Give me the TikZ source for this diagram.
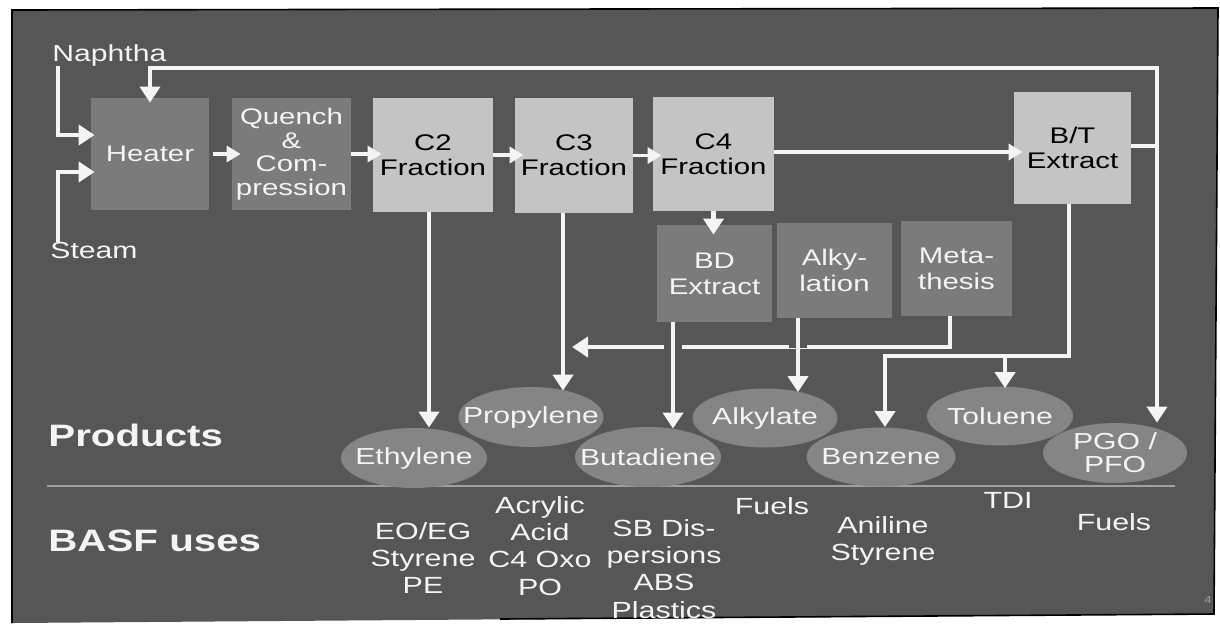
\documentclass[tikz,border=0pt]{standalone}
\usepackage{fontspec}
\setmainfont{Liberation Sans}[FakeStretch=1.3]
\usetikzlibrary{arrows.meta,shapes.geometric}
\definecolor{bg}{HTML}{565656}
\definecolor{darkbox}{HTML}{7B7B7B}
\definecolor{lightbox}{HTML}{C4C4C4}
\definecolor{ellc}{HTML}{858585}
\definecolor{wline}{HTML}{F4F4F4}
\definecolor{sepc}{HTML}{A0A0A0}
\newcommand{\zb}[1]{\makebox[0pt]{#1}}
\tikzset{
  dbox/.style={rectangle, fill=darkbox, text=wline, inner sep=0pt, align=center,
    font=\fontsize{11.3}{13}\selectfont},
  lbox/.style={rectangle, fill=lightbox, text=black, inner sep=0pt, align=center,
    font=\fontsize{11.3}{12.5}\selectfont},
  prod/.style={ellipse, fill=ellc, text=wline, inner sep=0pt, align=center,
    font=\fontsize{11.6}{11.5}\selectfont},
  lab/.style={text=wline, inner sep=0pt, font=\fontsize{11.6}{14}\selectfont},
  use/.style={text=wline, inner sep=0pt, align=center, font=\fontsize{11.7}{13.6}\selectfont},
  head/.style={text=wline, inner sep=0pt, anchor=west, font=\bfseries\fontsize{15.5}{18}\selectfont},
  wl/.style={draw=wline, line width=2.2pt},
  arr/.style={wl, -{Triangle[width=10pt,length=8pt]}},
  arrs/.style={draw=wline, line width=1.7pt, -{Triangle[width=8pt,length=7pt]}, shorten >=-4.5pt},
  halo/.style={preaction={draw=bg, line width=9pt, -, shorten <=5pt, shorten >=22pt}}
}
\begin{document}
\begin{tikzpicture}[x=0.5pt,y=-0.5pt]
\useasboundingbox (0,0) rectangle (1220,623);
\fill[white] (0,0) rectangle (1220,623);
\fill[bg] (12,10) -- (1218,8) -- (1214,614) -- (12,623) -- cycle;
\draw[black, line width=0.8pt] (12,623) -- (12,10) -- (1218,8) -- (1214,614) -- (500,619);

% separator
\draw[sepc, line width=0.8pt] (47,486) -- (1175,486);

% process boxes
\node[dbox, minimum width=59pt, minimum height=56pt] (heater) at (150,154) {Heater};
\node[dbox, minimum width=59.5pt, minimum height=56pt, font=\fontsize{11.3}{11.8}\selectfont] (quench) at (291.5,154) {Quench\\\&\\Com-\\pression};
\node[lbox, minimum width=60pt, minimum height=57pt] (c2) at (433,155) {C2\\Fraction};
\node[lbox, minimum width=59pt, minimum height=57.5pt] (c3) at (574,155.5) {C3\\Fraction};
\node[lbox, minimum width=60.5pt, minimum height=57pt] (c4) at (713.5,154) {C4\\Fraction};
\node[lbox, minimum width=58.5pt, minimum height=56pt] (bt) at (1072.5,148) {B/T\\Extract};
\node[dbox, minimum width=57.5pt, minimum height=48.5pt] (bd) at (714.5,273.5) {BD\\Extract};
\node[dbox, minimum width=57.5pt, minimum height=47.5pt] (alky) at (834.5,270.5) {Alky-\\lation};
\node[dbox, minimum width=55.5pt, minimum height=47.5pt] (meta) at (956.5,268.5) {Meta-\\thesis};

% products
\node[prod, minimum width=73pt, minimum height=30pt] (ethylene) at (414,458) {\zb{Ethylene}};
\node[prod, minimum width=72.5pt, minimum height=30pt] (propylene) at (531,417) {\zb{Propylene}};
\node[prod, minimum width=73pt, minimum height=30pt] (butadiene) at (648,457) {\zb{Butadiene}};
\node[prod, minimum width=72.5pt, minimum height=29.5pt] (alkylate) at (765,418) {\zb{Alkylate}};
\node[prod, minimum width=74.5pt, minimum height=29.5pt] (benzene) at (881,457) {\zb{Benzene}};
\node[prod, minimum width=73pt, minimum height=29.5pt] (toluene) at (1000,416) {\zb{Toluene}};
\node[prod, minimum width=72pt, minimum height=30pt] (pgo) at (1115,453) {\zb{PGO /}\\\zb{PFO}};

% labels
\node[lab, anchor=west] (naphtha) at (52,55) {Naphtha};
\node[lab, anchor=west] (steam) at (50,251) {Steam};
\node[head] (products) at (48,435) {Products};
\node[head] (uses) at (48,541) {BASF uses};

% uses
\node[use] (u1) at (423,558) {EO/EG\\Styrene\\PE};
\node[use] (u2) at (540,546) {Acrylic\\Acid\\C4 Oxo\\PO};
\node[use] (u3) at (664,569) {SB Dis-\\persions\\ABS\\Plastics};
\node[use] (u4) at (772,506) {Fuels};
\node[use] (u5) at (883,541) {Aniline\\Styrene};
\node[use] (u6) at (1008,500) {TDI};
\node[use] (u7) at (1114,522) {Fuels};
\node[text=sepc, inner sep=0pt, font=\fontsize{5}{6}\selectfont] (pnum) at (1208,600) {4};

% connectors
\coordinate (jn) at (1157,146);
\coordinate (topy) at (1157,68);
\coordinate (mtip) at (572,347);
\coordinate (btj) at (1069,356);

\draw[arr, shorten >=-2pt] ([xshift=3pt]naphtha.south west) |- ([yshift=9.5pt]heater.west);
\draw[arr, shorten >=-2pt] ([xshift=4pt]steam.north west) |- ([yshift=-9pt]heater.west);
\draw[arrs] ([xshift=2pt]heater.east) -- (heater.east -| quench.west);
\draw[arrs] (quench.east) -- (quench.east -| c2.west);
\draw[arrs] (c2.east) -- (c2.east -| c3.west);
\draw[arrs] (c3.east) -- (c3.east -| c4.west);
\draw[arrs] ([yshift=1pt]c4.east) -- ([yshift=1pt]c4.east -| bt.west);

\draw[wl] (bt.east |- jn) -- (jn);
\draw[arr, shorten >=-2.5pt] (jn) -- (topy) -| (heater.north);
\draw[arr] (jn) -- (jn |- pgo.north);

\draw[arr] ([xshift=-2pt]c2.south) -- ([xshift=-2pt]c2.south |- ethylene.north);
\draw[arr] ([xshift=-5.5pt]c3.south) -- ([xshift=-5.5pt,yshift=-2pt]c3.south |- propylene.north);
\draw[arr, shorten >=-5pt] (c4.south) -- (c4.south |- bd.north);

\draw[arr] ([xshift=-3.25pt]meta.south) |- (mtip);
\draw[arr, halo] ([xshift=-20.75pt]bd.south) -- ([xshift=-20.75pt,yshift=-1pt]bd.south |- butadiene.north);
\draw[arr, halo] ([xshift=-18.25pt]alky.south) -- ([xshift=-18.25pt,yshift=-2pt]alky.south |- alkylate.north);

\draw[arr] (bt.south -| btj) -- (btj) -| ([xshift=2pt]benzene.north);
\draw[arr] ([xshift=2.5pt]toluene.north |- btj) -- ([xshift=2.5pt,yshift=-1pt]toluene.north);
\end{tikzpicture}
\end{document}
